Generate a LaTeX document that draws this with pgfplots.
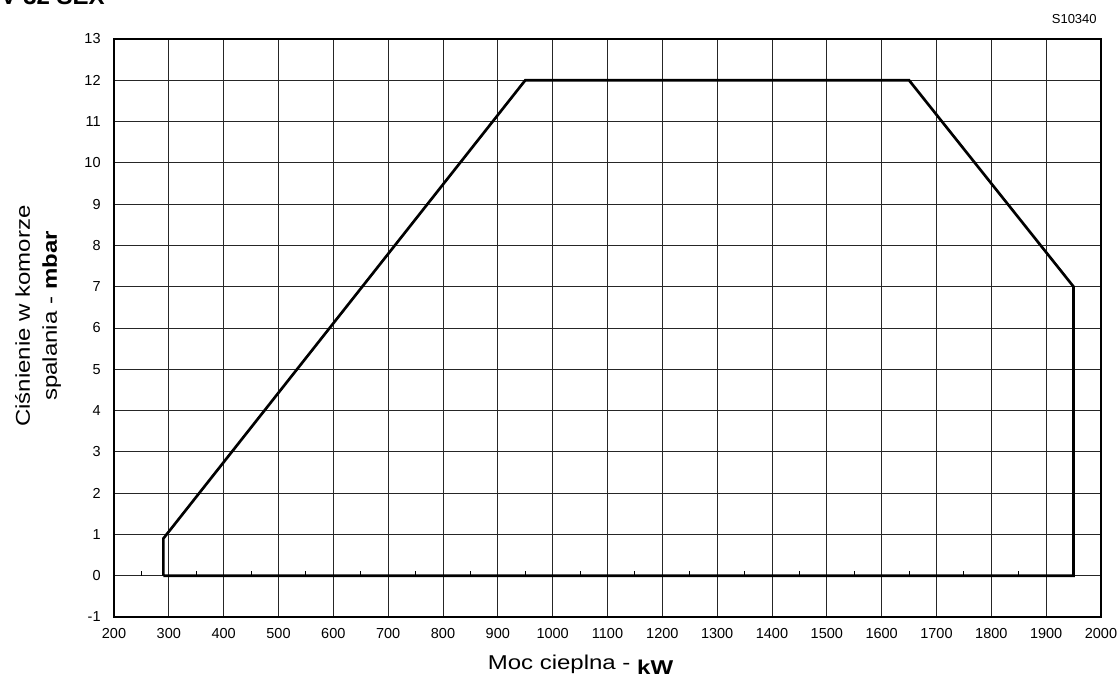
\documentclass[border=0pt]{standalone}
\usepackage{pgfplots}
\pgfplotsset{compat=1.18}
\usepackage{fontspec}
\setmainfont{Liberation Sans}
\newfontfamily\labelfont[FakeStretch=1.2]{Liberation Sans}

% short upward tick drawn on the zero line
\pgfdeclareplotmark{uptick}{%
  \pgfpathmoveto{\pgfpoint{0pt}{0pt}}%
  \pgfpathlineto{\pgfpoint{0pt}{2.6pt}}%
  \pgfusepathqstroke}

\begin{document}
\begin{tikzpicture}[x=0.6pt,y=0.6pt]
\useasboundingbox (0,0) rectangle (1119,680);

\begin{axis}[
  at={(68.4pt,37.8pt)}, anchor=south west,
  scale only axis,
  width=592.2pt, height=346.8pt,
  xmin=200, xmax=2000,
  ymin=-1, ymax=13,
  xtick={200,300,...,2000},
  ytick={-1,0,...,13},
  grid=major,
  major grid style={black!85, line width=0.5pt},
  axis line style={black, line width=0.9pt},
  major tick length=0pt,
  tick style={draw=none},
  ticklabel style={font=\fontsize{8.7}{10}\selectfont},
  xticklabel style={yshift=-3.2pt},
  yticklabel style={xshift=-4.5pt},
  /pgf/number format/assume math mode=true,
  /pgf/number format/1000 sep={},
  clip=false,
]
% small marks along the zero line between the grid lines
\addplot[only marks, mark=uptick, black, line width=0.5pt]
  coordinates {(250,0)(350,0)(450,0)(550,0)(650,0)(750,0)(850,0)(950,0)
               (1050,0)(1150,0)(1250,0)(1350,0)(1450,0)(1550,0)(1650,0)
               (1750,0)(1850,0)(1950,0)};
% working field of the burner
\addplot[black, line width=1.6pt, line join=miter]
  coordinates {(290,0)(290,0.9)(950,12)(1650,12)(1950,7)(1950,0)(290,0)};
\end{axis}

% titles and axis labels
\node[anchor=base east, font=\fontsize{14.4}{16}\bfseries\selectfont, inner sep=0pt]
  at (105,675) {V 32 SEX};
\node[anchor=base east, font=\fontsize{7.8}{9}\selectfont, inner sep=0pt]
  at (1097,656) {S10340};
\node[anchor=base, font=\labelfont\fontsize{12}{14}\selectfont, inner sep=0pt]
  at (580.5,10.7) {Moc cieplna - \raisebox{-3pt}{\bfseries kW}};
\node[rotate=90, align=center, font=\labelfont\fontsize{12}{16.2}\selectfont, inner sep=0pt]
  at (38,364) {Ciśnienie w komorze\\spalania - \textbf{mbar}};
\end{tikzpicture}
\end{document}
